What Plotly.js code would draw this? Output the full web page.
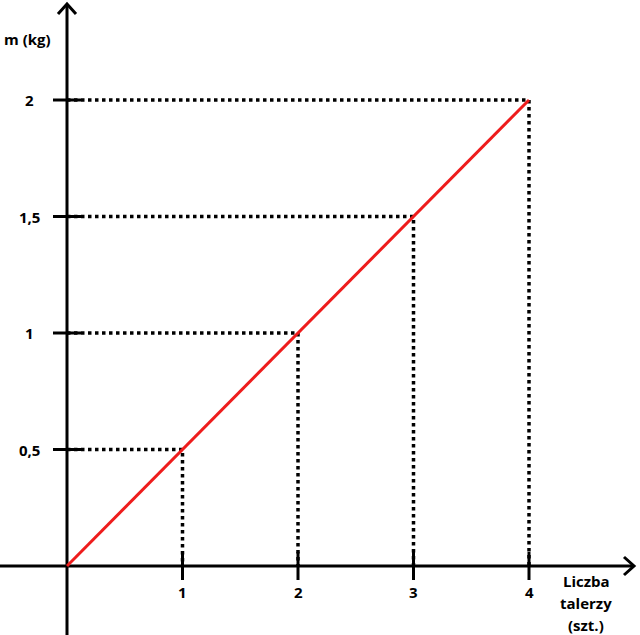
<!DOCTYPE html>
<html>
<head>
<meta charset="utf-8">
<script src="https://cdn.plot.ly/plotly-3.0.1.min.js"></script>
<style>html,body{margin:0;padding:0;background:#fff;}#chart{width:640px;height:635px;}</style>
</head>
<body>
<div id="chart"></div>
<script>
// ---- data ----
const plates = [0, 1, 2, 3, 4];            // Liczba talerzy (szt.)
const mass = [0, 0.5, 1, 1.5, 2];          // m (kg)
const xTickVals = [1, 2, 3, 4];
const xTickText = ['1', '2', '3', '4'];
const yTickVals = [0.5, 1, 1.5, 2];
const yTickText = ['0,5', '1', '1,5', '2'];
const yTitle = 'm (kg)';
const xTitleLines = ['Liczba', 'talerzy', '(szt.)'];

// ---- geometry (pixels in the 640x635 page) ----
const W = 640, H = 635;
const ox = 67, oy = 566;          // origin pixel
const pxPerX = (529 - 67) / 4;    // px per plate
const pxPerY = (566 - 100) / 2;   // px per kg
const xRange = [-ox / pxPerX, (W - ox) / pxPerX];
const yRange = [-(H - oy) / pxPerY, oy / pxPerY];
const px = p => p / W;            // pixel -> paper x
const py = p => 1 - p / H;        // pixel -> paper y

const font = {family: 'Open Sans, sans-serif', size: 15, color: '#000'};
const traces = [];

// dotted guide lines for each non-zero point
for (let i = 0; i < plates.length; i++) {
  if (plates[i] === 0) continue;
  traces.push({
    x: [0, plates[i], plates[i]],
    y: [mass[i], mass[i], 0],
    mode: 'lines', type: 'scatter', hoverinfo: 'skip',
    line: {color: '#000', width: 3.5, dash: 'dot'}
  });
}
// tick marks
traces.push({
  x: xTickVals, y: xTickVals.map(() => 0), mode: 'markers', type: 'scatter', hoverinfo: 'skip',
  marker: {symbol: 'line-ns', size: 20, line: {color: '#000', width: 3}}
});
traces.push({
  x: yTickVals.map(() => 0), y: yTickVals, mode: 'markers', type: 'scatter', hoverinfo: 'skip',
  marker: {symbol: 'line-ew', size: 20, line: {color: '#000', width: 3}}
});
// red line
traces.push({
  x: plates, y: mass, mode: 'lines', type: 'scatter',
  line: {color: '#ee1c1c', width: 3}
});

const annotations = [];
xTickVals.forEach((v, i) => annotations.push({
  x: v, xref: 'x', y: py(592), yref: 'paper', text: '<b>' + xTickText[i] + '</b>',
  showarrow: false, xanchor: 'center', yanchor: 'middle', font: font
}));
yTickVals.forEach((v, i) => annotations.push({
  x: px(29), xref: 'paper', y: v, yref: 'y', text: '<b>' + yTickText[i] + '</b>',
  showarrow: false, xanchor: 'center', yanchor: 'middle', font: font
}));
annotations.push({
  x: px(27), xref: 'paper', y: py(39), yref: 'paper', text: '<b>' + yTitle + '</b>',
  showarrow: false, xanchor: 'center', yanchor: 'middle', font: font
});
xTitleLines.forEach((t, i) => annotations.push({
  x: px(586), xref: 'paper', y: py(581 + 22 * i), yref: 'paper', text: '<b>' + t + '</b>',
  showarrow: false, xanchor: 'center', yanchor: 'middle', font: font
}));

const axisLine = {color: '#000', width: 3};
const shapes = [
  {type: 'line', xref: 'paper', yref: 'y', x0: 0, x1: px(633), y0: 0, y1: 0, line: axisLine, layer: 'below'},
  {type: 'line', xref: 'x', yref: 'paper', x0: 0, x1: 0, y0: 0, y1: py(5), line: axisLine, layer: 'below'},
  {type: 'path', xref: 'paper', yref: 'paper',
   path: `M ${px(624)} ${py(557)} L ${px(634)} ${py(566)} L ${px(624)} ${py(575)}`, line: axisLine},
  {type: 'path', xref: 'paper', yref: 'paper',
   path: `M ${px(58)} ${py(14)} L ${px(67)} ${py(4)} L ${px(76)} ${py(14)}`, line: axisLine}
];

const layout = {
  width: W, height: H,
  margin: {l: 0, r: 0, t: 0, b: 0, pad: 0},
  paper_bgcolor: '#fff', plot_bgcolor: '#fff',
  showlegend: false,
  xaxis: {range: xRange, visible: false, fixedrange: true},
  yaxis: {range: yRange, visible: false, fixedrange: true},
  shapes: shapes,
  annotations: annotations,
  font: font
};

Plotly.newPlot('chart', traces, layout, {displayModeBar: false, staticPlot: true});
</script>
</body>
</html>
